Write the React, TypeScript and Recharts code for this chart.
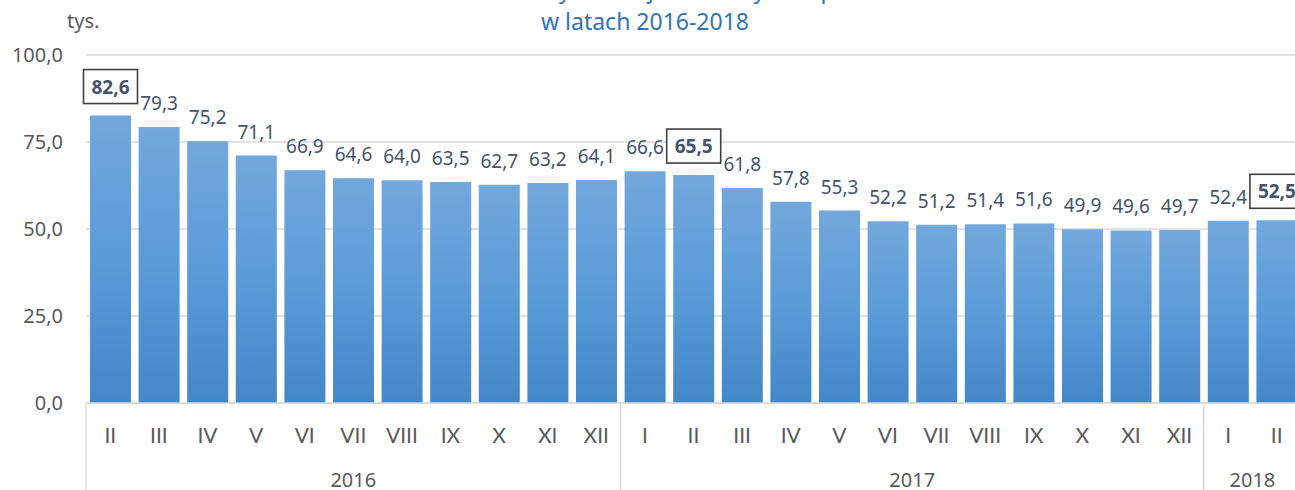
import React from 'react';
import { BarChart, Bar, XAxis, YAxis, CartesianGrid, LabelList } from 'recharts';

// months shown on the axis, 2016-II .. 2018-II
const months = [
    'II', 'III', 'IV', 'V', 'VI', 'VII', 'VIII', 'IX', 'X', 'XI', 'XII',
    'I', 'II', 'III', 'IV', 'V', 'VI', 'VII', 'VIII', 'IX', 'X', 'XI', 'XII',
    'I', 'II',
];
const yearLabels = ['2016', '2017', '2018'];
const yearSizes = [11, 12, 2];
const values = [
    82.6, 79.3, 75.2, 71.1, 66.9, 64.6, 64.0, 63.5, 62.7, 63.2, 64.1,
    66.6, 65.5, 61.8, 57.8, 55.3, 52.2, 51.2, 51.4, 51.6, 49.9, 49.6, 49.7,
    52.4, 52.5,
];
const boxed = [0, 12, 24];
const yTicks = [0, 25, 50, 75, 100];

const data = (() => {
    const rows: any[] = [];
    let i = 0;
    yearLabels.forEach((year, g) => {
        for (let k = 0; k < yearSizes[g]; k++) {
            rows.push({ month: months[i], year, first: k === 0, size: yearSizes[g], value: values[i] });
            i++;
        }
    });
    return rows;
})();

const FONT = '"Noto Sans", sans-serif';
const ROMAN_FONT = 'Lato, "Noto Sans", sans-serif';
const CHART_W = 1310;
const CHART_H = 490;
const Y_W = 86;
const M_RIGHT = 9;
const STEP = (CHART_W - Y_W - M_RIGHT) / data.length;

const fmt = (v: number) => v.toFixed(1).replace('.', ',');

const MonthTick = (props: any) => {
    const { x, y, payload } = props;
    const d = data[payload.index];
    return (
        <g>
            <text x={x} y={y + 32} textAnchor="middle" fill="#595959" fontSize={21} fontFamily={ROMAN_FONT}>{d.month}</text>
            {d.first && (
                <line x1={x - STEP / 2} x2={x - STEP / 2} y1={y - 8} y2={y + 90} stroke="#D9D9D9" strokeWidth={1.3} />
            )}
            {d.first && (
                <text x={x + ((d.size - 1) * STEP) / 2} y={y + 76} textAnchor="middle" fill="#595959" fontSize={20} fontFamily={FONT}>
                    {d.year}
                </text>
            )}
        </g>
    );
};

const ValueLabel = (props: any) => {
    const { x, y, width, value, index } = props;
    const cx = x + width / 2;
    if (boxed.includes(index)) {
        const cy = y - 29;
        return (
            <g>
                <rect x={cx - 27} y={cy - 17} width={54} height={34} fill="#fff" stroke="#404040" strokeWidth={1.6} />
                <text x={cx} y={cy} textAnchor="middle" dominantBaseline="central" fill="#44546A" fontSize={19} fontWeight="bold" fontFamily={FONT}>
                    {fmt(value)}
                </text>
            </g>
        );
    }
    return (
        <text x={cx} y={y - 24} textAnchor="middle" dominantBaseline="central" fill="#44546A" fontSize={19} fontFamily={FONT}>
            {fmt(value)}
        </text>
    );
};

export default function App() {
    return (
        <div
            style={{
                position: 'fixed',
                left: 0,
                top: 0,
                width: 1295,
                height: 490,
                overflow: 'hidden',
                fontFamily: FONT,
                background: '#fff',
            }}
        >
            <div style={{ position: 'absolute', left: 0, width: 1290, top: -22, textAlign: 'center', fontSize: 23, lineHeight: '23px', color: '#2E75B6', whiteSpace: 'nowrap' }}>
                Liczba bezrobotnych zarejestrowanych w powiecie
            </div>
            <div style={{ position: 'absolute', left: 0, width: 1290, top: 10, textAlign: 'center', fontSize: 23, lineHeight: '23px', color: '#2E75B6' }}>
                w latach 2016-2018
            </div>
            <div style={{ position: 'absolute', left: 67, top: 11, fontSize: 20, lineHeight: '20px', color: '#595959' }}>
                tys.
            </div>
            <BarChart width={CHART_W} height={CHART_H} data={data} margin={{ top: 55, right: M_RIGHT, left: 0, bottom: 0 }}>
                <defs>
                    <linearGradient id="barFill" x1="0" y1="0" x2="0" y2="1">
                        <stop offset="0%" stopColor="#72A8DC" />
                        <stop offset="50%" stopColor="#5A9BD8" />
                        <stop offset="100%" stopColor="#4487C7" />
                    </linearGradient>
                </defs>
                <CartesianGrid vertical={false} stroke="#D9D9D9" strokeWidth={1.3} />
                <YAxis
                    width={Y_W}
                    domain={[0, 100]}
                    ticks={yTicks}
                    tickFormatter={fmt}
                    axisLine={false}
                    tickLine={false}
                    tickMargin={17}
                    tick={{ fill: '#595959', fontSize: 20, fontFamily: FONT }}
                />
                <XAxis
                    dataKey="month"
                    height={87}
                    interval={0}
                    tickLine={false}
                    axisLine={{ stroke: '#D9D9D9', strokeWidth: 1.3 }}
                    tick={<MonthTick />}
                />
                <Bar dataKey="value" fill="url(#barFill)" barSize={41} isAnimationActive={false}>
                    <LabelList dataKey="value" content={<ValueLabel />} />
                </Bar>
            </BarChart>
        </div>
    );
}
